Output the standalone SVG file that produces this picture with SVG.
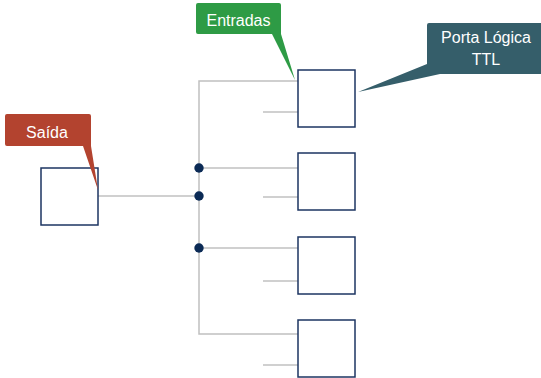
<svg xmlns="http://www.w3.org/2000/svg" width="541" height="378" viewBox="0 0 541 378">
  <style>
    .wire { stroke: #c0c0c0; stroke-width: 1.5; fill: none; }
    .gate { fill: #ffffff; stroke: #1c3562; stroke-width: 1.5; }
    .dot { fill: #0b2a55; }
    .label { font-family: "Liberation Sans", Arial, sans-serif; font-size: 16px; fill: #ffffff; text-anchor: middle; }
  </style>
  <rect width="541" height="378" fill="#ffffff"/>

  <!-- wiring between output and gate inputs -->
  <g id="connectors">
    <path class="wire" d="M98,196 H199"/>
    <path class="wire" d="M298,81 H199 V334 H298"/>
    <path class="wire" d="M199,168 H298"/>
    <path class="wire" d="M199,248 H298"/>
    <path class="wire" d="M263,112 H298"/>
    <path class="wire" d="M263,197 H298"/>
    <path class="wire" d="M263,281 H298"/>
    <path class="wire" d="M263,365 H298"/>
    <circle class="dot" cx="199" cy="168" r="4.7"/>
    <circle class="dot" cx="199" cy="196" r="4.7"/>
    <circle class="dot" cx="199" cy="248" r="4.7"/>
  </g>

  <!-- output gate -->
  <g id="saida-gate">
    <rect class="gate" x="41" y="168" width="57" height="57"/>
  </g>

  <!-- input gates -->
  <g id="gate-1"><rect class="gate" x="298" y="70" width="57" height="57"/></g>
  <g id="gate-2"><rect class="gate" x="298" y="153" width="57" height="57"/></g>
  <g id="gate-3"><rect class="gate" x="298" y="237" width="57" height="57"/></g>
  <g id="gate-4"><rect class="gate" x="298" y="320" width="57" height="57"/></g>

  <!-- callouts -->
  <g id="callout-saida">
    <path d="M7,114 H89 Q91,114 91,116 V146 L98,190 L83,146 H7 Q5,146 5,144 V116 Q5,114 7,114 Z" fill="#b3432f"/>
    <text class="label" x="47" y="138">Saída</text>
  </g>

  <g id="callout-entradas">
    <path d="M198,3 H279 Q281,3 281,5 V34 L295,80 L272,34 H198 Q196,34 196,32 V5 Q196,3 198,3 Z" fill="#2e9b45"/>
    <text class="label" x="238.5" y="26">Entradas</text>
  </g>

  <g id="callout-ttl">
    <path d="M429,23 H541 V74 H440 L358,92 L427,64 V25 Q427,23 429,23 Z" fill="#355e6a"/>
    <text class="label" x="486" y="43">Porta Lógica</text>
    <text class="label" x="486" y="65">TTL</text>
  </g>
</svg>
